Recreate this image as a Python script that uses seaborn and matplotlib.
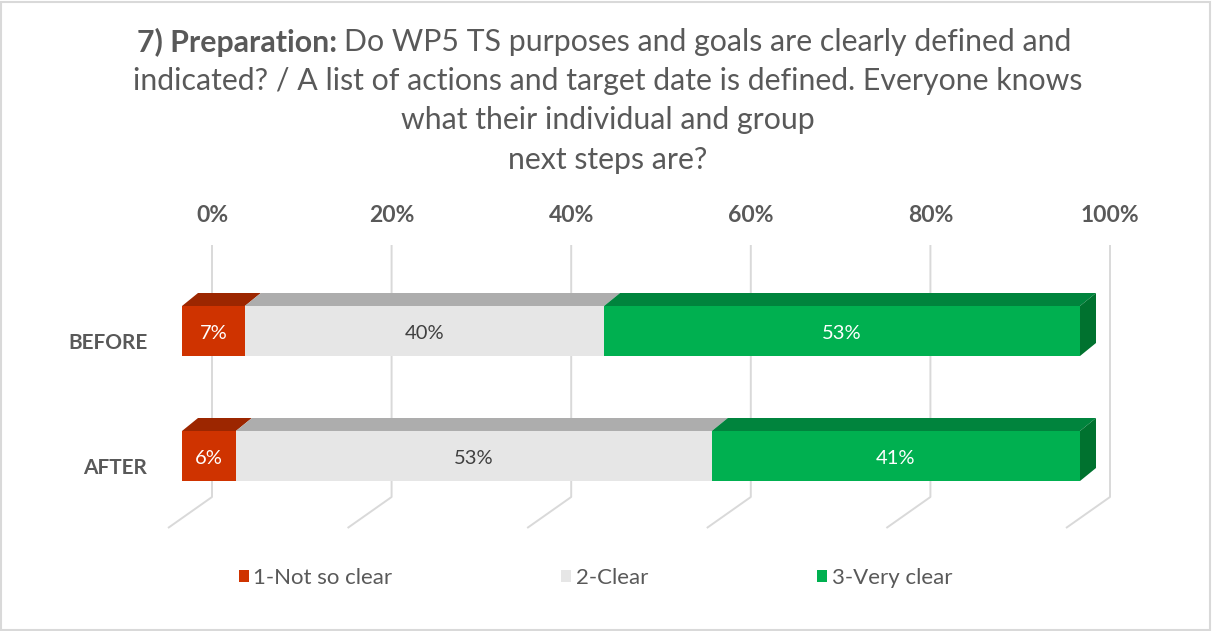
import seaborn as sns
import matplotlib.pyplot as plt
from matplotlib.patches import Polygon, Patch, Rectangle
from matplotlib.transforms import ScaledTranslation
import pandas as pd

# chart data
periods = ["BEFORE", "AFTER"]
answers = ["1-Not so clear", "2-Clear", "3-Very clear"]
not_so_clear = [7, 6]
clear = [40, 53]
very_clear = [53, 41]
tick_values = [0, 20, 40, 60, 80, 100]
title_bold = "7) Preparation: "
title_rest = "Do WP5 TS purposes and goals are clearly defined and"
title_lines = ["indicated? / A list of actions and target date is defined. Everyone knows",
               "what their individual and group",
               "next steps are?"]

front_colors = ["#CF3300", "#E6E6E6", "#00B050"]
top_colors = ["#9C2600", "#ADADAD", "#00843D"]
side_color = "#00722F"
label_colors = ["white", "#404040", "white"]
text_gray = "#595959"
grid_gray = "#D9D9D9"

sns.set_style("white")
plt.rcParams['font.family'] = ['Lato', 'DejaVu Sans']

W, H = 1212, 631
px_x = 898 / 100      # pixels per percent (front face 0% at x=182px)
px_y = 125            # pixels per category step
depth_dx = 16 / px_x
depth_dy = 13 / px_y
wall_dx = 30 / px_x

fig = plt.figure(figsize=(W / 100, H / 100), dpi=100)
# axes run from the front 0% (182px) to the back wall 100% (1110px)
ax = fig.add_axes([182 / W, 1 - 528 / H, 928 / W, 283 / H])

df = pd.DataFrame({"period": periods, answers[0]: not_so_clear,
                   answers[1]: clear, answers[2]: very_clear})
cum = df[answers].cumsum(axis=1)

# stacked bars: draw cumulative totals, longest first
for i in reversed(range(len(answers))):
    sns.barplot(x=cum[answers[i]], y=df["period"], orient="h", color=front_colors[i],
                saturation=1, width=0.4, ax=ax, zorder=3, linewidth=0)

# 3D top faces and right side face
for row in range(len(periods)):
    y_top = row - 0.2
    y_bot = row + 0.2
    for i, name in enumerate(answers):
        right = cum.loc[row, name]
        left = right - df.loc[row, name]
        ax.add_patch(Polygon([(left, y_top), (right, y_top), (right + depth_dx, y_top - depth_dy),
                              (left + depth_dx, y_top - depth_dy)], closed=True,
                             facecolor=top_colors[i], edgecolor="none", zorder=2))
        ax.text((left + right) / 2, row + 0.02, f"{df.loc[row, name]}%", ha="center", va="center",
                fontsize=14.5, color=label_colors[i], zorder=5)
    end = cum.loc[row, answers[-1]]
    ax.add_patch(Polygon([(end, y_top), (end + depth_dx, y_top - depth_dy),
                          (end + depth_dx, y_bot - depth_dy), (end, y_bot)], closed=True,
                         facecolor=side_color, edgecolor="none", zorder=2))

# back wall gridlines with floor slant
floor_y = (497 - 331) / px_y
y_low = (528 - 331) / px_y
y_high = (245 - 331) / px_y
for v in tick_values:
    xb = v + wall_dx
    ax.plot([xb, xb, xb - 44 / px_x], [y_high, floor_y, y_low], color=grid_gray,
            lw=1.4, zorder=1, clip_on=False, solid_capstyle="butt")

ax.xaxis.tick_top()
ax.set_xticks([v + wall_dx for v in tick_values], [f"{v}%" for v in tick_values])
ax.set_xlim(0, 100 + wall_dx)
ax.set_ylim(y_low, y_high)
ax.tick_params(axis="x", length=0, pad=14, labelsize=16.5, labelcolor=text_gray)
for lab in ax.get_xticklabels():
    lab.set_fontweight("bold")
ax.tick_params(axis="y", length=0, pad=25, labelsize=15, labelcolor=text_gray)
for lab in ax.get_yticklabels():
    lab.set_fontweight("bold")
    lab.set_transform(lab.get_transform() + ScaledTranslation(0, -0.1, fig.dpi_scale_trans))
ax.set_xlabel("")
ax.set_ylabel("")
sns.despine(ax=ax, left=True, bottom=True, top=True, right=True)
ax.patch.set_alpha(0)

# title, first line mixed bold / regular
r = fig.canvas.get_renderer()
t1 = fig.text(0, 1 - 42 / H, title_bold, fontsize=21.8, fontweight="bold", color=text_gray, va="center")
t2 = fig.text(0, 1 - 42 / H, title_rest, fontsize=21.8, color=text_gray, va="center")
w1 = t1.get_window_extent(r).width
w2 = t2.get_window_extent(r).width
x0 = 604 - (w1 + w2) / 2
t1.set_x(x0 / W)
t2.set_x((x0 + w1) / W)
for k, line in enumerate(title_lines):
    fig.text(608 / W, 1 - (81 + 39.5 * k) / H, line, fontsize=21.8, color=text_gray,
             ha="center", va="center")

handles = [Patch(facecolor=c, edgecolor="none") for c in front_colors]
fig.legend(handles, answers, loc="center left", bbox_to_anchor=(219 / W, 1 - 578 / H),
           ncol=3, frameon=False, fontsize=16, handlelength=0.45, handleheight=0.5,
           handletextpad=0.2, columnspacing=7.6, labelcolor=text_gray)

fig.patches.append(Rectangle((0.001, 0.002), 0.997, 0.995, transform=fig.transFigure,
                             fill=False, edgecolor=grid_gray, lw=1.5))

fig.savefig("out.png", dpi=100)
